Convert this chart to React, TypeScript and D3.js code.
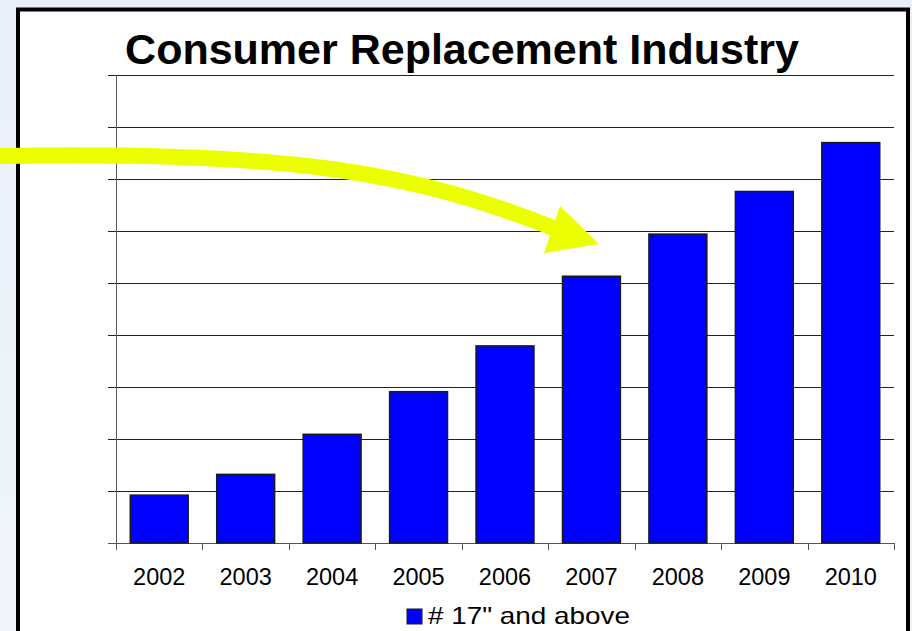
import React from "react";
import * as d3 from "d3";

const years = ["2002", "2003", "2004", "2005", "2006", "2007", "2008", "2009", "2010"];
const values = [0.92, 1.32, 2.09, 2.91, 3.79, 5.13, 5.94, 6.76, 7.7];
const yTicks = [0, 1, 2, 3, 4, 5, 6, 7, 8, 9];
const seriesName = '# 17" and above';
const title = "Consumer Replacement Industry";

const W = 912;
const H = 631;
const plot = { left: 116, right: 894, top: 75, bottom: 543 };

export default function App() {
  const x = d3.scaleBand<string>().domain(years).range([plot.left, plot.right]).paddingInner(0.33).paddingOuter(0.165);
  const xOuter = d3.scaleBand<string>().domain(years).range([plot.left, plot.right]);
  const y = d3.scaleLinear().domain([0, 9]).range([plot.bottom, plot.top]);

  const arrowPath = d3.path();
  arrowPath.moveTo(-5, 156);
  arrowPath.bezierCurveTo(300, 150, 420, 175, 556, 229);

  const font = "'Liberation Sans', Arial, sans-serif";

  return (
    <svg width={W} height={H} style={{ position: "absolute", left: 0, top: 0 }}>
      <defs>
        <linearGradient id="bg" x1="0" y1="0" x2="0" y2="1">
          <stop offset="0" stopColor="#e9eff8" />
          <stop offset="1" stopColor="#f1f5fb" />
        </linearGradient>
      </defs>
      <rect x={0} y={0} width={W} height={H} fill="url(#bg)" />
      <rect x={18} y={9.5} width={890} height={H + 20} fill="#ffffff" stroke="#000" strokeWidth={4} />

      <text x={462} y={64} textAnchor="middle" fontFamily={font} fontWeight="bold" fontSize={43} fill="#000">
        {title}
      </text>

      {/* gridlines */}
      {yTicks.map((t) => (
        <line key={"g" + t} x1={108} x2={plot.right} y1={Math.round(y(t)) + 0.5} y2={Math.round(y(t)) + 0.5} stroke={t === 0 ? "#555" : "#222"} strokeWidth={1} />
      ))}
      {/* y axis */}
      <line x1={plot.left + 0.5} x2={plot.left + 0.5} y1={plot.top} y2={plot.bottom + 7} stroke="#555" strokeWidth={1} />
      {/* x ticks */}
      {years.map((yr) => (
        <line key={"t" + yr} x1={Math.round((xOuter(yr) as number) + xOuter.bandwidth()) + 0.5} x2={Math.round((xOuter(yr) as number) + xOuter.bandwidth()) + 0.5} y1={plot.bottom} y2={plot.bottom + 7} stroke="#555" strokeWidth={1} />
      ))}

      {/* bars */}
      {years.map((yr, i) => (
        <rect key={"b" + yr} x={x(yr)} y={y(values[i])} width={x.bandwidth()} height={plot.bottom - y(values[i])} fill="#0000ff" stroke="#1a1a1a" strokeWidth={1.5} />
      ))}

      {/* x labels */}
      {years.map((yr) => (
        <text key={"l" + yr} x={(xOuter(yr) as number) + xOuter.bandwidth() / 2} y={585} textAnchor="middle" fontFamily={font} fontSize={23.5} fill="#000">
          {yr}
        </text>
      ))}

      {/* legend */}
      <rect x={407} y={609} width={15} height={15} fill="#0000ff" stroke="#1a1a1a" strokeWidth={1} />
      <text x={428} y={624} fontFamily={font} fontSize={24} textLength={202} lengthAdjust="spacingAndGlyphs" fill="#000">
        {seriesName}
      </text>

      {/* arrow */}
      <path d={arrowPath.toString()} fill="none" stroke="#ecff00" strokeWidth={16} />
      <polygon points="560,206 599,244 544,253" fill="#ecff00" />
    </svg>
  );
}
